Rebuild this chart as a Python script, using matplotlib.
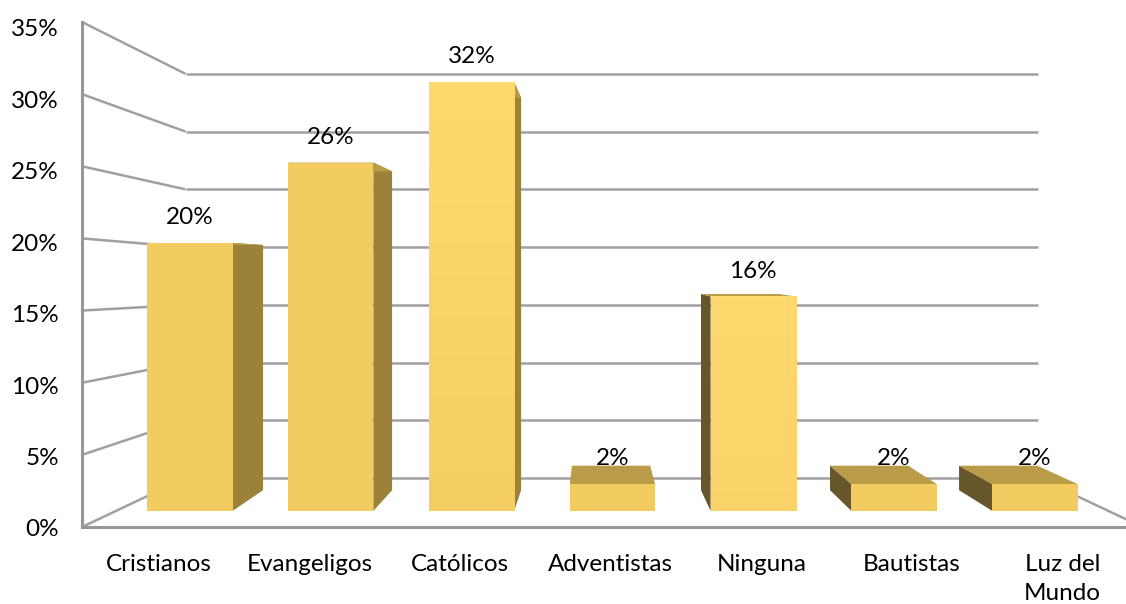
import numpy as np
import matplotlib
matplotlib.use("Agg")
import matplotlib.pyplot as plt
from matplotlib.patches import Polygon
from matplotlib.colors import LinearSegmentedColormap
from matplotlib.transforms import ScaledTranslation

plt.rcParams['font.family'] = ['Lato', 'DejaVu Sans']

categories = ["Cristianos", "Evangeligos", "Católicos", "Adventistas", "Ninguna", "Bautistas", "Luz del\nMundo"]
values = [20, 26, 32, 2, 16, 2, 2]
labels = ["20%", "26%", "32%", "2%", "16%", "2%", "2%"]
y_ticks = [0, 5, 10, 15, 20, 25, 30, 35]
y_ticklabels = ["0%", "5%", "10%", "15%", "20%", "25%", "30%", "35%"]

# scene geometry: depth scales of the planes, relative to the front plane of the chart
VP_Y = 17.0
VP_X_WALL = 3.0
VP_X_BAR = 3.013
S_WALL_X = 0.804
S_WALL = 0.80
S_BAR_FRONT = 0.9286
S_BAR_BACK = 0.85
SX_BAR_FRONT = 0.935
SX_BAR_BACK = 0.8565
BAR_HALF = 0.303
FRONT_SHIFT = 0.01
FRONT_DROP = 0.10

W, H = 1126, 604
fig = plt.figure(figsize=(W / 100, H / 100), dpi=100, facecolor="white")
ax = fig.add_axes([82 / W, (H - 527) / H, (W - 82) / W, (527 - 22) / H])
ax.set_xlim(-0.51, 6.42)
ax.set_ylim(0, 35)


def wall(x, v):
    return (VP_X_WALL + (x - VP_X_WALL) * S_WALL_X, VP_Y + (v - VP_Y) * S_WALL)


def bar_front(x, v):
    return (VP_X_BAR + (x - VP_X_BAR) * SX_BAR_FRONT + FRONT_SHIFT, VP_Y + (v - VP_Y) * S_BAR_FRONT - FRONT_DROP)


def bar_back(x, v):
    return (VP_X_BAR + (x - VP_X_BAR) * SX_BAR_BACK, VP_Y + (v - VP_Y) * S_BAR_BACK)


GRID = "#A0A0A0"
AXIS = "#979797"

# back wall gridlines and side wall lines
for t in y_ticks:
    x0, y0 = wall(-0.51, t)
    x1, y1 = wall(6.53, t)
    ax.plot([x0, x1], [y0, y1], color=GRID, lw=1.8, zorder=1, clip_on=False, solid_capstyle="butt")
    ax.plot([-0.51, x0], [t, y0], color=GRID, lw=1.8, zorder=1, clip_on=False, solid_capstyle="butt")
x1, y1 = wall(6.53, 0)
ax.plot([x1, 6.53], [y1, 0], color=GRID, lw=1.8, zorder=1, clip_on=True)

FRONT_DARK = "#F2CC60"
FRONT_BRIGHT = "#FFD96D"
SIDE_R = "#9C8239"
SIDE_L = "#665629"
TOP = "#BA9C48"
cm_bright = LinearSegmentedColormap.from_list("b", [FRONT_BRIGHT, "#F4CE63"])

for i, (v, lab) in enumerate(zip(values, labels)):
    xl, xr = i - BAR_HALF, i + BAR_HALF
    fl_b, fr_b = bar_front(xl, 0), bar_front(xr, 0)
    fl_t, fr_t = bar_front(xl, v), bar_front(xr, v)
    bl_b, br_b = bar_back(xl, 0), bar_back(xr, 0)
    bl_t, br_t = bar_back(xl, v), bar_back(xr, v)
    if i < 3:
        ax.add_patch(Polygon([fr_b, br_b, br_t, fr_t], closed=True, fc=SIDE_R, ec="none", zorder=2))
    elif i > 3:
        ax.add_patch(Polygon([fl_b, bl_b, bl_t, fl_t], closed=True, fc=SIDE_L, ec="none", zorder=2))
    ax.add_patch(Polygon([fl_t, fr_t, br_t, bl_t], closed=True, fc=TOP, ec="none", zorder=2))
    if lab in ("32%", "16%"):
        grad = np.linspace(0, 1, 64).reshape(-1, 1) * (fl_t[1] - fl_b[1]) / 30
        ax.imshow(grad, cmap=cm_bright, vmin=0, vmax=1, aspect="auto", origin="upper",
                  extent=(fl_b[0], fr_b[0], fl_b[1], fl_t[1]), zorder=3)
    else:
        ax.add_patch(Polygon([fl_b, fr_b, fr_t, fl_t], closed=True, fc=FRONT_DARK, ec="none", zorder=3))
    cx, cy = bar_front(i, v)
    ax.annotate(lab, (cx, cy), xytext=(0, 25.5 * 0.72), textcoords="offset points", ha="center", va="center",
                fontsize=17.5, color="black", zorder=5)

ax.set_xlim(-0.51, 6.42)
ax.set_ylim(0, 35)
ax.set_xticks(range(len(categories)))
ax.set_xticklabels(categories, fontsize=17.5, color="black", linespacing=1.48)
ax.set_yticks(y_ticks)
ax.set_yticklabels(y_ticklabels, fontsize=17.5, color="black")
ax.tick_params(axis="both", length=0)
ax.tick_params(axis="x", pad=19.5)
ax.tick_params(axis="y", pad=16.5)
for tick, t in zip(ax.yaxis.get_major_ticks(), y_ticks):
    off = (1 + t / 35 * 5) / 100
    tick.label1.set_transform(tick.label1.get_transform() + ScaledTranslation(0, -off, fig.dpi_scale_trans))
ax.patch.set_visible(False)
for s in ("top", "right"):
    ax.spines[s].set_visible(False)
for s in ("left", "bottom"):
    ax.spines[s].set_color(AXIS)
    ax.spines[s].set_linewidth(2.2)

fig.savefig("out.png", dpi=100, facecolor="white")
